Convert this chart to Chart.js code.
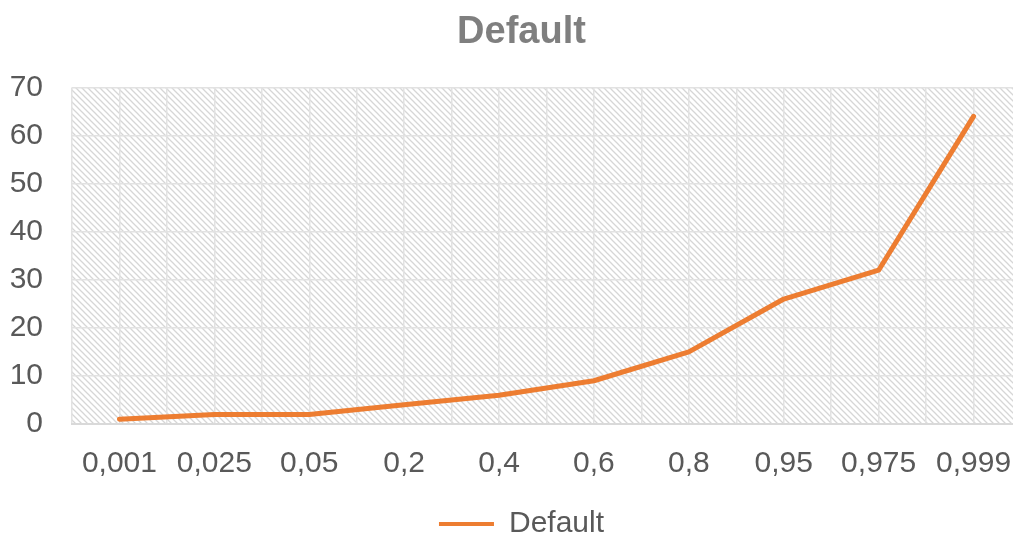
<!DOCTYPE html>
<html>
<head>
<meta charset="utf-8">
<script src="https://cdn.jsdelivr.net/npm/chart.js@4/dist/chart.umd.min.js"></script>
<style>
  html, body { margin: 0; padding: 0; background: #ffffff; overflow: hidden; }
  canvas { display: block; }
</style>
</head>
<body>
<canvas id="chart" width="1043" height="537"></canvas>
<script>
// Probability levels along the horizontal axis
const categories = ['0,001', '0,025', '0,05', '0,2', '0,4', '0,6', '0,8', '0,95', '0,975', '0,999'];
// Values of the "Default" series
const defaultValues = [1, 2, 2, 4, 6, 9, 15, 26, 32, 64];
// Vertical axis ticks
const yTicks = [0, 10, 20, 30, 40, 50, 60, 70];

const FONT = "'Liberation Sans', Arial, sans-serif";

// Light diagonal hatch used as the plot background
function makeHatch() {
  const size = 6;
  const c = document.createElement('canvas');
  c.width = size; c.height = size;
  const g = c.getContext('2d');
  g.fillStyle = '#ffffff';
  g.fillRect(0, 0, size, size);
  g.strokeStyle = '#d6d6d6';
  g.lineWidth = 1.3;
  g.beginPath();
  g.moveTo(-1, -1); g.lineTo(size + 1, size + 1);
  g.moveTo(-1, size - 1); g.lineTo(1, size + 1);
  g.moveTo(size - 1, -1); g.lineTo(size + 1, 1);
  g.stroke();
  return g.createPattern(c, 'repeat');
}

const hatchBackground = {
  id: 'hatchBackground',
  beforeDraw(chart) {
    const { ctx, chartArea } = chart;
    ctx.save();
    ctx.fillStyle = makeHatch();
    ctx.fillRect(chartArea.left, chartArea.top, chartArea.right - chartArea.left, chartArea.bottom - chartArea.top);
    ctx.restore();
  }
};

new Chart(document.getElementById('chart'), {
  type: 'line',
  data: {
    datasets: [{
      label: 'Default',
      data: defaultValues.map((v, i) => ({ x: i, y: v })),
      borderColor: '#ED7D31',
      backgroundColor: '#ED7D31',
      borderWidth: 5,
      borderCapStyle: 'round',
      borderJoinStyle: 'round',
      pointRadius: 0,
      tension: 0
    }]
  },
  options: {
    responsive: false,
    animation: false,
    layout: { padding: { top: 0, left: 0, right: 0, bottom: -12 } },
    plugins: {
      tooltip: { enabled: false },
      title: {
        display: true,
        text: 'Default',
        color: '#7f7f7f',
        font: { family: FONT, size: 38, weight: 'bold', lineHeight: 1.2 },
        padding: { top: 10, bottom: 32 }
      },
      legend: {
        display: true,
        position: 'bottom',
        labels: {
          color: '#595959',
          font: { family: FONT, size: 30 },
          boxWidth: 55,
          boxHeight: 4,
          padding: 0,
          generateLabels(chart) {
            return chart.data.datasets.map((ds, i) => ({
              text: ds.label,
              fillStyle: ds.borderColor,
              strokeStyle: ds.borderColor,
              lineWidth: 0,
              fontColor: '#595959',
              datasetIndex: i
            }));
          }
        }
      }
    },
    scales: {
      x: {
        type: 'linear',
        min: -0.5,
        max: 9.5,
        afterBuildTicks(scale) {
          const t = [];
          for (let k = 0; k <= 20; k++) t.push({ value: -0.5 + k * 0.5 });
          scale.ticks = t;
        },
        afterFit(scale) { scale.height = 85; },
        grid: { color: '#e2e2e2', lineWidth: 1.5, drawTicks: false },
        border: { display: true, color: '#d9d9d9', width: 2 },
        ticks: {
          autoSkip: false,
          maxRotation: 0,
          padding: 22,
          color: '#595959',
          font: { family: FONT, size: 30 },
          callback(v) { return Number.isInteger(v) ? categories[v] : ''; }
        }
      },
      y: {
        min: 0,
        max: 70,
        afterBuildTicks(scale) { scale.ticks = yTicks.map(v => ({ value: v })); },
        afterFit(scale) { scale.width = 72; },
        grid: { color: '#e2e2e2', lineWidth: 1.5, drawTicks: false },
        border: { display: false },
        ticks: {
          padding: 29,
          color: '#595959',
          font: { family: FONT, size: 30 }
        }
      }
    }
  },
  plugins: [hatchBackground]
});
</script>
</body>
</html>
